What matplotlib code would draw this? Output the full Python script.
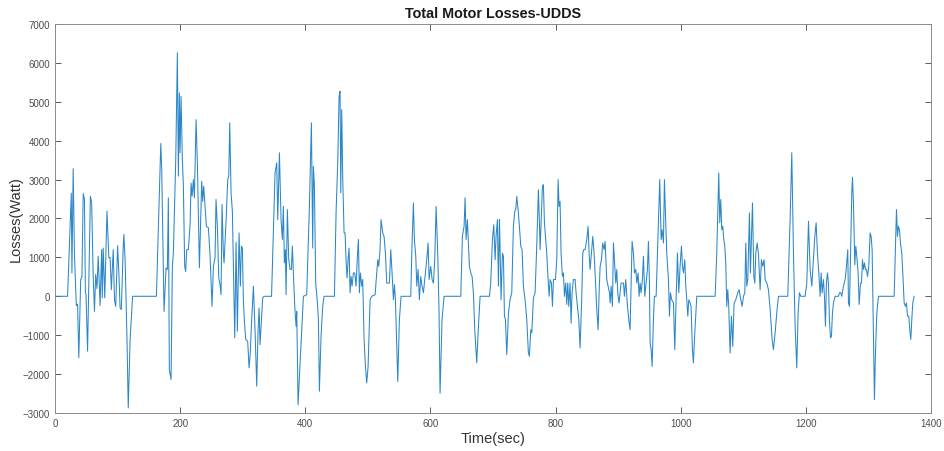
import matplotlib
matplotlib.use("Agg")
import matplotlib.pyplot as plt

# ----------------------------------------------------------
# Data (time in sec, losses in W)
# ----------------------------------------------------------

time_a = [0, 20, 26, 27, 29, 31, 34, 36, 38, 41, 43, 45, 47, 48.5, 49.5, 52,
          56.5, 58.5, 61, 63, 65, 67, 69, 72, 74.5, 75.5, 77, 79.5, 81.5, 83,
          86, 88, 90, 93, 95, 97, 100, 102, 104, 106, 109, 110, 112, 115, 117,
          120, 124, 162, 169]
loss_a = [0, 0, 2650, 600, 3280, 1100, -240, -200, -1580, 430, 500, 2640, 2500,
          100, 50, -1410, 2570, 2420, 510, -390, 560, 200, 1030, -240, 1200,
          -40, 1240, -40, 1200, 2190, 990, 1000, 170, 1200, -90, -260, 1300,
          600, -300, -340, 1290, 1590, 940, -1110, -2870, -1100, 0, 0, 3930]

time_b = [170.5, 174.2, 177.4, 179.5, 181.1, 182.7, 185.4, 187.5, 189.1, 192.9,
          195.5, 197.1, 198.7, 199.8, 201.4, 203.5, 205.1, 207.2, 208.8, 210.4,
          213.1, 215.8, 217.4, 219.0, 221.1, 222.7, 225.4, 227.5, 230.7, 234.4,
          236.0, 237.6, 239.7, 241.9, 245.1, 247.7, 250.9, 253.1, 255.7, 257.3,
          259.5, 261.6, 263.7, 265.3, 266.9, 269.0, 270.1, 273.3, 276.0, 277.6,
          279.2, 281.3, 283.4, 285.0, 287.2, 289.3, 291.4, 294.1, 296.2, 297.8,
          299.4, 301.0, 302.6, 304.7, 307.9, 310.1, 311.7, 314.3, 317.0, 319.7,
          322.3, 324.5, 326.1, 327.6, 329.8, 331.9, 334.0, 346.0]
loss_b = [3260, -390, 730, 690, 2530, -1890, -2140, 770, 1110, 3510,
          6260, 3090, 5230, 3690, 5140, 3510, 2830, 770, 640, 1200,
          1200, 1840, 2910, 2570, 3000, 2530, 4540, 3430, 730, 2960,
          2440, 2830, 2310, 1800, 1760, 1070, -260, 770, 990, 2490,
          1760, 470, 300, 40, 2360, 1110, 860, 1930, 3000, 3090,
          4460, 2660, 2190, 770, -1070, 1390, -900, 1630, 260, 1290,
          1240, -90, -640, -1110, -1160, -1840, -1540, -600, 260, -900,
          -2310, -860, -300, -1240, -640, -40, 0, 0]

time_c = [351.6, 354.3, 355.9, 358.6, 361.2, 363.3, 364.9, 366.5, 368.1, 369.2,
          371.3, 373.5, 375.6, 377.7, 379.3, 380.9, 383.1, 385.2, 386.3, 388.4,
          391.6, 394.2, 396.9, 402.2, 406.5, 409.7, 411.8, 412.9, 414.5, 416.6,
          419.3, 420.9, 422.5, 425.1, 427.8, 429.9, 446.5, 449.1, 451.8, 453.9,
          455.5, 456.6, 458.2, 459.8, 461.9, 463.5, 465.1, 466.7, 468.3, 469.9,
          471.5, 473.1, 474.7, 476.8, 479.0, 481.1, 483.2, 484.8, 486.4, 488.0,
          490.1, 491.7, 493.9, 496.0, 498.1, 500.3, 503.5, 506.1, 511.5, 514.1,
          515.7, 517.3, 519.4]
loss_c = [3170, 3430, 1970, 3690, 1970, 1460, 2310, 860, 1200, 40,
          2230, 940, 690, 690, 1290, 600, -260, -770, -390, -2790,
          -1710, -900, 0, 40, 2310, 4460, 1240, 3340, 2830, 340,
          -170, -600, -2440, -1030, -260, 0, 0, 2140, 3430, 5140,
          5270, 2660, 4800, 3000, 1630, 1630, 940, 470, 940, 1240,
          90, 510, 260, 600, 600, 260, 1030, 1460, 90, 600,
          260, 430, -1110, -1800, -2230, -1800, -90, 0, 40, 600,
          940, 770, 1200]

time_d = [521.0, 523.7, 525.8, 528.0, 530.1, 534.4, 536.5, 538.6, 540.8, 542.4,
          544.0, 547.7, 550.3, 553.0, 568.5, 570.1, 572.7, 574.3, 576.5, 578.1,
          580.2, 582.3, 584.4, 586.6, 588.7, 590.8, 594.0, 596.2, 597.8, 600.4,
          602.6, 604.7, 606.8, 609.0, 611.6, 613.7, 615.3, 618.5, 621.7, 648.4,
          651.0, 653.7, 655.3, 656.9, 659.0, 661.2, 662.2, 664.4, 666.5, 668.6,
          670.8, 673.9, 676.1, 679.3, 694.2, 696.3, 699.0, 701.1, 703.3, 704.8,
          707.0, 708.6, 710.2]
loss_d = [1970, 1630, 1540, 1110, 340, 340, 1200, 600, -90, 300,
          -90, -2190, -600, 0, 0, 1110, 2400, 1460, 1030, 260,
          690, -90, 510, 260, 90, 430, 940, 1370, 430, 770,
          430, 340, 940, 2310, 1110, -430, -2490, -600, 0, 0,
          1540, 1800, 2530, 1460, 1970, 1110, 770, 600, 510, 90,
          -860, -1710, -940, 0, 0, 340, 1460, 1840, 940, 1540,
          1970, 260, 1970]

time_e = [711.2, 712.8, 715.0, 716.6, 718.2, 719.8, 721.9, 724.6, 727.2, 729.9,
          732.5, 734.7, 736.3, 737.9, 740.0, 742.1, 744.3, 746.4, 748.5, 751.2,
          753.9, 756.5, 758.1, 760.3, 761.9, 764.5, 767.2, 769.8, 772.5, 774.1,
          775.2, 776.8, 778.9, 780.5, 782.1, 784.2, 785.8, 788.0, 789.6, 791.2,
          793.3, 794.9, 796.5, 799.7, 801.8, 804.0, 805.5, 807.1, 808.7, 810.9,
          812.5, 814.1, 816.2, 817.8, 819.4, 821.0, 823.1, 824.7, 826.3, 828.4,
          831.1, 832.7, 834.8, 837.0, 839.1, 841.8, 843.4, 845.0, 847.1, 849.8,
          851.9, 853.5, 855.1, 857.2, 859.4, 861.5, 863.6, 865.7, 867.9, 869.5,
          871.1, 873.2, 875.3, 877.5, 879.1, 881.7, 883.9, 886.0]
loss_e = [1290, -90, 1110, 1030, -510, -600, -1500, -430, -90, 90,
          1800, 2190, 2230, 2570, 2230, 1800, 1290, 1200, 260, -90,
          -600, -1460, -1540, -860, -940, -40, 90, 1290, 2740, 1890,
          1200, 1890, 2830, 2870, 1890, 1460, 1110, 430, 0, 430,
          340, -260, 430, 430, 940, 3000, 2310, 2440, 1110, 510,
          600, 0, 340, -210, 340, -260, 340, -690, 90, 430,
          430, 90, -260, -600, -1330, 0, 1110, 1200, 1200, 1460,
          1800, 1110, 690, 1110, 1540, 1110, 430, -340, -860, 90,
          770, 940, 1370, 1200, 1410, 430, 260, 90]

time_f = [887.1, 888.7, 890.8, 892.4, 894.5, 896.1, 897.7, 899.3, 901.4, 903.0,
          904.6, 906.8, 908.4, 910.0, 912.1, 914.8, 916.9, 919.0, 920.6, 922.2,
          924.4, 926.0, 928.1, 929.7, 931.8, 933.4, 935.0, 936.6, 938.7, 940.3,
          942.5, 944.6, 946.7, 948.3, 949.9, 951.0, 952.6, 954.2, 956.3, 957.9,
          960.6, 962.7, 964.8, 966.4, 968.6, 970.2, 972.3, 973.9, 975.5, 977.6,
          980.3, 981.9, 983.5, 985.6, 988.3, 990.4, 992.5, 994.7, 996.8, 998.9,
          1001.1, 1002.7, 1004.3, 1006.4, 1008.0, 1009.6, 1011.2, 1012.8, 1014.9,
          1016.5, 1018.6, 1020.2, 1022.4, 1025.6, 1054.9, 1057.5]
loss_f = [-170, 260, -260, 1370, 770, 340, 690, 90, -170, 90,
          340, 340, 340, 0, 430, -260, -600, -860, 260, 1410,
          1110, 600, 690, 340, 600, 0, 340, 90, 430, 1030,
          0, 340, 690, 1410, 340, -1200, -1370, -1800, -600, 0,
          0, 1110, 2310, 3000, 1460, 1710, 1370, 3000, 2140, 1110,
          430, -510, 90, -90, -170, -1370, -90, 1110, 90, 770,
          1290, 770, 600, 940, 260, -90, -510, -90, -170,
          -260, -1370, -1710, -940, 0, 0, 1110]

time_g = [1060.7, 1062.3, 1063.9, 1065.5, 1067.1, 1068.7, 1070.3, 1071.9, 1073.5,
          1075.1, 1076.7, 1078.8, 1081.0, 1083.1, 1085.2, 1087.9, 1091.1, 1093.2,
          1095.9, 1098.0, 1100.2, 1102.3, 1103.9, 1105.5, 1107.1, 1109.7, 1111.3,
          1114.6, 1116.7, 1118.3, 1119.9, 1122.0, 1124.1, 1126.8, 1128.9, 1131.1,
          1133.2, 1134.8, 1137.5, 1140.1, 1142.8, 1146.0, 1148.1, 1150.8, 1153.4,
          1156.1, 1171.0, 1174.7, 1177.4, 1180.1, 1182.7, 1185.4, 1187.5, 1189.6,
          1191.8, 1198.7, 1201.4, 1204.1, 1206.7, 1209.4, 1211.0, 1214.2, 1216.3,
          1218.4, 1220.6, 1222.7]
loss_g = [3170, 1890, 2490, 1710, 1800, 1460, 1290, 860, -260,
          170, -260, -1460, -510, -1290, -170, -90, 90, 170,
          -90, -260, 0, 90, 1370, 260, 430, 2140, 600,
          2400, 510, 340, 1110, 1370, 1110, 170, 940, 770,
          940, 430, 340, 170, -340, -1110, -1370, -940, -430,
          0, 0, 1970, 3690, 1110, -770, -1840, -430, 90,
          0, 0, 340, 1930, 690, 260, 690, 1540, 1890,
          1110, 600, 0]

time_h = [1224.3, 1225.9, 1228.0, 1229.6, 1231.2, 1232.8, 1234.4, 1236.0, 1237.6,
          1239.2, 1240.8, 1242.4, 1244.0, 1246.7, 1252.0, 1253.6, 1255.7, 1257.3,
          1260.0, 1262.7, 1264.8, 1266.9, 1268.0, 1269.6, 1271.7, 1273.3, 1274.4,
          1276.0, 1278.1, 1279.7, 1281.3, 1283.4, 1285.1, 1287.2, 1288.8, 1290.4,
          1292.0, 1293.6, 1295.2, 1296.8, 1298.4, 1300.5, 1302.6, 1304.2, 1305.8,
          1307.9, 1309.5, 1311.1, 1313.3, 1315.9, 1341.0, 1343.1, 1344.7, 1346.3,
          1347.9, 1349.5, 1351.1, 1353.2, 1354.8, 1357.0, 1359.1, 1360.7, 1362.3,
          1364.4, 1366.0, 1367.6, 1369.2, 1370.8, 1372.9]
loss_h = [600, 90, 430, 0, -770, 340, 600, 340, -600,
          -1070, -1030, -430, -170, 0, 0, 90, 90, 0,
          260, 430, 770, 1200, -170, -260, 1460, 2660, 3060,
          2400, 810, 1290, 1030, 600, -210, 340, 340, 940,
          690, 860, 690, 690, 510, 770, 1630, 1540, 1200,
          -1030, -2660, -1460, -430, 0, 0, 1290, 2230, 1540,
          1800, 1710, 1370, 1110, 600, -170, -260, -170, -510,
          -510, -860, -1110, -600, -170, 0]

time_sec = (time_a + time_b + time_c + time_d
            + time_e + time_f + time_g + time_h)
losses_watt = (loss_a + loss_b + loss_c + loss_d
               + loss_e + loss_f + loss_g + loss_h)

x_ticks = [0, 200, 400, 600, 800, 1000, 1200, 1400]
y_ticks = [-3000, -2000, -1000, 0, 1000, 2000, 3000, 4000, 5000, 6000, 7000]

# ----------------------------------------------------------
# Figure
# ----------------------------------------------------------

plt.rcParams["font.family"] = ["Liberation Sans", "DejaVu Sans"]

fig = plt.figure(figsize=(9.44, 4.52), dpi=100)
ax = fig.add_axes([0.0583, 0.0841, 0.928, 0.8606])

ax.plot(time_sec, losses_watt, color="#2b87c8", linewidth=0.75)

ax.set_xlim(0, 1400)
ax.set_ylim(-3000, 7000)
ax.set_xticks(x_ticks)
ax.set_yticks(y_ticks)

ax.tick_params(
    direction="in",
    top=True,
    right=True,
    labelsize=7,
    length=4,
    width=0.6,
    colors="#404040",
    labelcolor="#4d4d4d"
)

for spine in ax.spines.values():
    spine.set_color("#8c8c8c")
    spine.set_linewidth(0.7)

ax.set_title("Total Motor Losses-UDDS", fontsize=10.4, fontweight="bold",
             pad=5, color="#1a1a1a")
ax.set_xlabel("Time(sec)", fontsize=10.5, labelpad=2, color="#333333")
ax.set_ylabel("Losses(Watt)", fontsize=10.5, labelpad=0, color="#333333")

fig.savefig("out.png", dpi=100)
plt.close(fig)
